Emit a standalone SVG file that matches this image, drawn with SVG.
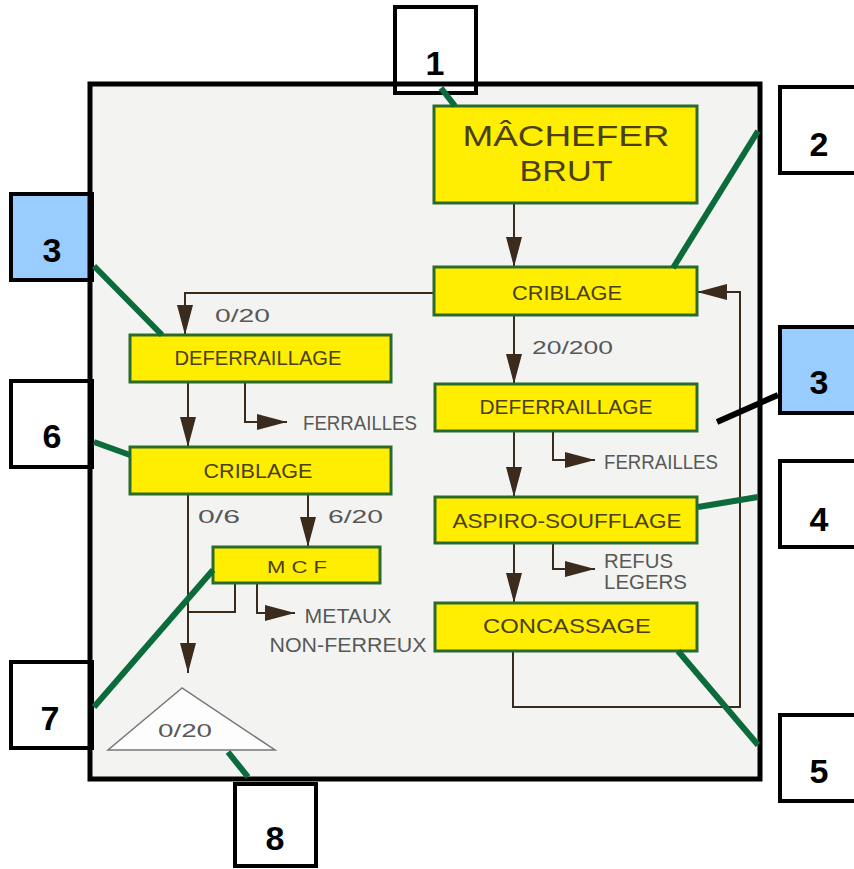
<svg xmlns="http://www.w3.org/2000/svg" width="854" height="869" viewBox="0 0 854 869">
<style>
.bx{fill:#ffee00;stroke:#2a6a2a;stroke-width:3}
.bt{font-family:"Liberation Sans",Arial,sans-serif;fill:#4a4016;text-anchor:middle;font-size:21px}
.big{font-size:30px}
.sm{font-size:17px}
.lb{font-family:"Liberation Sans",Arial,sans-serif;fill:#585858;font-size:20px}
.l19{font-size:19px}
.num{fill:#fff;stroke:#000;stroke-width:4}
.numb{fill:#99ccff;stroke:#000;stroke-width:4}
.nt{font-family:"Liberation Sans",Arial,sans-serif;font-weight:bold;font-size:34px;fill:#000;text-anchor:middle}
.ln{fill:none;stroke:#3b2b1c;stroke-width:2}
.ar{marker-end:url(#ah)}
.gr{stroke:#0b6b3a;stroke-width:6;fill:none}
</style>
<defs>
<marker id="ah" markerUnits="userSpaceOnUse" viewBox="0 0 30 16" markerWidth="30" markerHeight="16" refX="30" refY="8" orient="auto" overflow="visible">
<path d="M0,0 L30,8 L0,16 z" fill="#3b2b1c"/>
</marker>
</defs>
<rect x="0" y="0" width="854" height="869" fill="#fff"/>
<rect x="90" y="84" width="670" height="695" fill="#f3f4f1"/>

<g id="connectors">
<path class="ln ar" d="M514,203 V267"/>
<path class="ln ar" d="M434,293 H185 V335"/>
<path class="ln ar" d="M514,315 V384"/>
<path class="ln ar" d="M188,382 V447"/>
<path class="ln ar" d="M245,382 V422 H287"/>
<path class="ln ar" d="M188,494 V673"/>
<path class="ln ar" d="M308,494 V547"/>
<path class="ln" d="M235,583 V612 H188"/>
<path class="ln ar" d="M257,583 V613 H295"/>
<path class="ln ar" d="M514,431 V497"/>
<path class="ln ar" d="M553,431 V460 H595"/>
<path class="ln ar" d="M514,543 V603"/>
<path class="ln ar" d="M553,543 V569 H595"/>
<path class="ln ar" d="M513,651 V707 H740 V292 H697"/>
</g>

<g id="machefer"><rect class="bx" x="434" y="106" width="263" height="97"/>
<text class="bt big" x="566" y="146" textLength="207" lengthAdjust="spacingAndGlyphs">MÂCHEFER</text>
<text class="bt big" x="566" y="181" textLength="93" lengthAdjust="spacingAndGlyphs">BRUT</text></g>
<g id="criblage1"><rect class="bx" x="434" y="267" width="263" height="48"/>
<text class="bt" x="567" y="300" textLength="110" lengthAdjust="spacingAndGlyphs">CRIBLAGE</text></g>
<g id="deferraillage1"><rect class="bx" x="130" y="335" width="261" height="47"/>
<text class="bt" x="258" y="365" textLength="167" lengthAdjust="spacingAndGlyphs">DEFERRAILLAGE</text></g>
<g id="criblage2"><rect class="bx" x="130" y="447" width="261" height="47"/>
<text class="bt" x="258" y="478" textLength="109" lengthAdjust="spacingAndGlyphs">CRIBLAGE</text></g>
<g id="deferraillage2"><rect class="bx" x="435" y="384" width="262" height="47"/>
<text class="bt" x="566" y="414" textLength="173" lengthAdjust="spacingAndGlyphs">DEFERRAILLAGE</text></g>
<g id="aspiro"><rect class="bx" x="435" y="497" width="262" height="46"/>
<text class="bt" x="567" y="528" textLength="229" lengthAdjust="spacingAndGlyphs">ASPIRO-SOUFFLAGE</text></g>
<g id="concassage"><rect class="bx" x="435" y="603" width="262" height="48"/>
<text class="bt" x="567" y="633" textLength="168" lengthAdjust="spacingAndGlyphs">CONCASSAGE</text></g>
<g id="mcf"><rect class="bx" x="213" y="547" width="167" height="36"/>
<text class="bt sm" x="297" y="573" textLength="60" lengthAdjust="spacingAndGlyphs">M C F</text></g>
<g id="stock"><polygon points="182,688 108,750 275,750" fill="#fdfdfd" stroke="#777" stroke-width="1.5"/>
<text class="lb l19" x="185" y="737" text-anchor="middle" textLength="54" lengthAdjust="spacingAndGlyphs">0/20</text></g>

<g id="labels">
<text class="lb l19" x="215" y="322" textLength="55" lengthAdjust="spacingAndGlyphs">0/20</text>
<text class="lb" x="303" y="430" textLength="114" lengthAdjust="spacingAndGlyphs">FERRAILLES</text>
<text class="lb l19" x="532" y="354" textLength="81" lengthAdjust="spacingAndGlyphs">20/200</text>
<text class="lb" x="604" y="469" textLength="114" lengthAdjust="spacingAndGlyphs">FERRAILLES</text>
<text class="lb" x="604" y="568" textLength="69" lengthAdjust="spacingAndGlyphs">REFUS</text>
<text class="lb" x="604" y="589" textLength="83" lengthAdjust="spacingAndGlyphs">LEGERS</text>
<text class="lb l19" x="198" y="523" textLength="42" lengthAdjust="spacingAndGlyphs">0/6</text>
<text class="lb l19" x="328" y="523" textLength="55" lengthAdjust="spacingAndGlyphs">6/20</text>
<text class="lb" x="348" y="623" text-anchor="middle" textLength="87" lengthAdjust="spacingAndGlyphs">METAUX</text>
<text class="lb" x="348" y="652" text-anchor="middle" textLength="157" lengthAdjust="spacingAndGlyphs">NON-FERREUX</text>
</g>

<g id="n1"><rect class="num" x="395" y="7" width="81" height="86"/><text class="nt" x="435" y="75">1</text></g>
<g id="n2"><rect class="num" x="780" y="87" width="80" height="86"/><text class="nt" x="819" y="156">2</text></g>
<g id="n3a"><rect class="numb" x="11" y="194" width="81" height="86"/><text class="nt" x="52" y="262">3</text></g>
<g id="n6"><rect class="num" x="11" y="381" width="81" height="86"/><text class="nt" x="52" y="448">6</text></g>
<g id="n3b"><rect class="numb" x="780" y="327" width="80" height="86"/><text class="nt" x="819" y="394">3</text></g>
<g id="n4"><rect class="num" x="780" y="461" width="80" height="86"/><text class="nt" x="819" y="531">4</text></g>
<g id="n5"><rect class="num" x="780" y="715" width="80" height="86"/><text class="nt" x="819" y="783">5</text></g>
<g id="n7"><rect class="num" x="11" y="662" width="81" height="86"/><text class="nt" x="50" y="730">7</text></g>
<g id="n8"><rect class="num" x="235" y="784" width="81" height="82"/><text class="nt" x="275" y="850">8</text></g>

<rect x="90" y="84" width="670" height="695" fill="none" stroke="#000" stroke-width="5"/>

<g id="pointers">
<path class="gr" d="M441,88 L455,106"/>
<path class="gr" d="M673,268 L758,131"/>
<path class="gr" d="M94,266 L162,335"/>
<path class="gr" d="M94,442 L130,455"/>
<path class="gr" d="M698,507 L758,497"/>
<path class="gr" d="M678,651 L758,745"/>
<path class="gr" d="M94,707 L213,570"/>
<path class="gr" d="M228,752 L248,777"/>
<path d="M778,395 L717,422" stroke="#000" stroke-width="6" fill="none"/>
</g>
</svg>
